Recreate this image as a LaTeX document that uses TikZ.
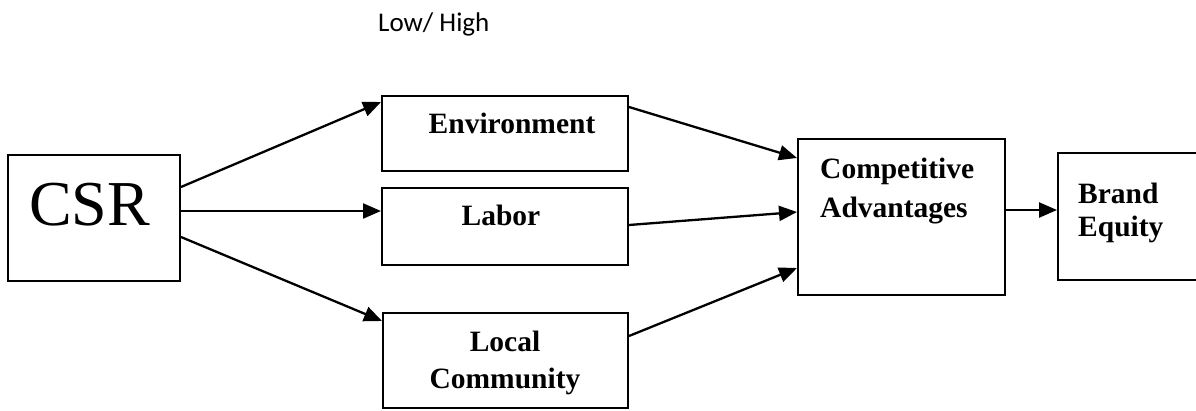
\documentclass[tikz,border=0pt]{standalone}
\usepackage{fontspec}
\setmainfont{Liberation Serif}
\newfontfamily\lowhighfont{Carlito}
\usetikzlibrary{calc}
\usetikzlibrary{arrows.meta}

\tikzset{
  box/.style={draw, line width=2pt, inner sep=0pt},
  boxtext/.style={inner sep=0pt, font=\fontsize{29.5}{37}\selectfont\bfseries},
  link/.style={line width=2.3pt, -{Triangle[length=18pt, width=15pt]}}
}

\begin{document}
\begin{tikzpicture}[x=1pt, y=1pt]
\clip (0, 0) rectangle (1196, 410);

% boxes
\node[box, minimum width=172, minimum height=126] (csr) at (94, 192) {};
\node[box, minimum width=246, minimum height=75] (env) at (505, 276.5) {};
\node[box, minimum width=246, minimum height=77] (labor) at (505, 183.5) {};
\node[box, minimum width=245, minimum height=95] (local) at (505.5, 49.5) {};
\node[box, minimum width=207, minimum height=156] (comp) at (901.5, 193) {};
\node[box, minimum width=152, minimum height=127] (brand) at (1134, 193.5) {};

% box texts (base is the last line)
\node[inner sep=0pt, anchor=base, font=\fontsize{64}{70}\selectfont] (csr-txt) at (89.5, 184) {CSR};
\node[boxtext, anchor=base] (env-txt) at (512, 276) {Environment};
\node[boxtext, anchor=base] (labor-txt) at (501, 184) {Labor};
\node[boxtext, anchor=base, align=center] (local-txt) at (505, 22) {Local\\Community};
\node[boxtext, anchor=base west, align=left] (comp-txt) at (820, 192) {Competitive\\[3pt]Advantages};
\node[boxtext, anchor=base west, align=left] (brand-txt) at (1078, 174) {Brand\\[-4pt]Equity};

% scale note
\node[inner sep=0pt, anchor=base west, font=\lowhighfont\fontsize{27}{32}\selectfont] (lowhigh) at (378, 378) {Low/ High};

% CSR to its three parts
\draw[link] ([yshift=31pt]csr.east) -- ([yshift=-7pt]env.north west);
\draw[link] ([yshift=7pt]csr.east) -- ([yshift=15.5pt]labor.west);
\draw[link] ([yshift=-19pt]csr.east) -- ([yshift=-9pt]local.north west);

% parts to competitive advantages
\draw[link] ([yshift=-12pt]env.north east) -- ([yshift=-20pt]comp.north west);
\draw[link] ([yshift=1.5pt]labor.east) -- ([yshift=5pt]comp.west);
\draw[link] ([yshift=-24pt]local.north east) -- ([yshift=28pt]comp.south west);

% competitive advantages to brand equity
\draw[link] ([yshift=7pt]comp.east) -- ([yshift=6.5pt]brand.west);
\end{tikzpicture}
\end{document}
